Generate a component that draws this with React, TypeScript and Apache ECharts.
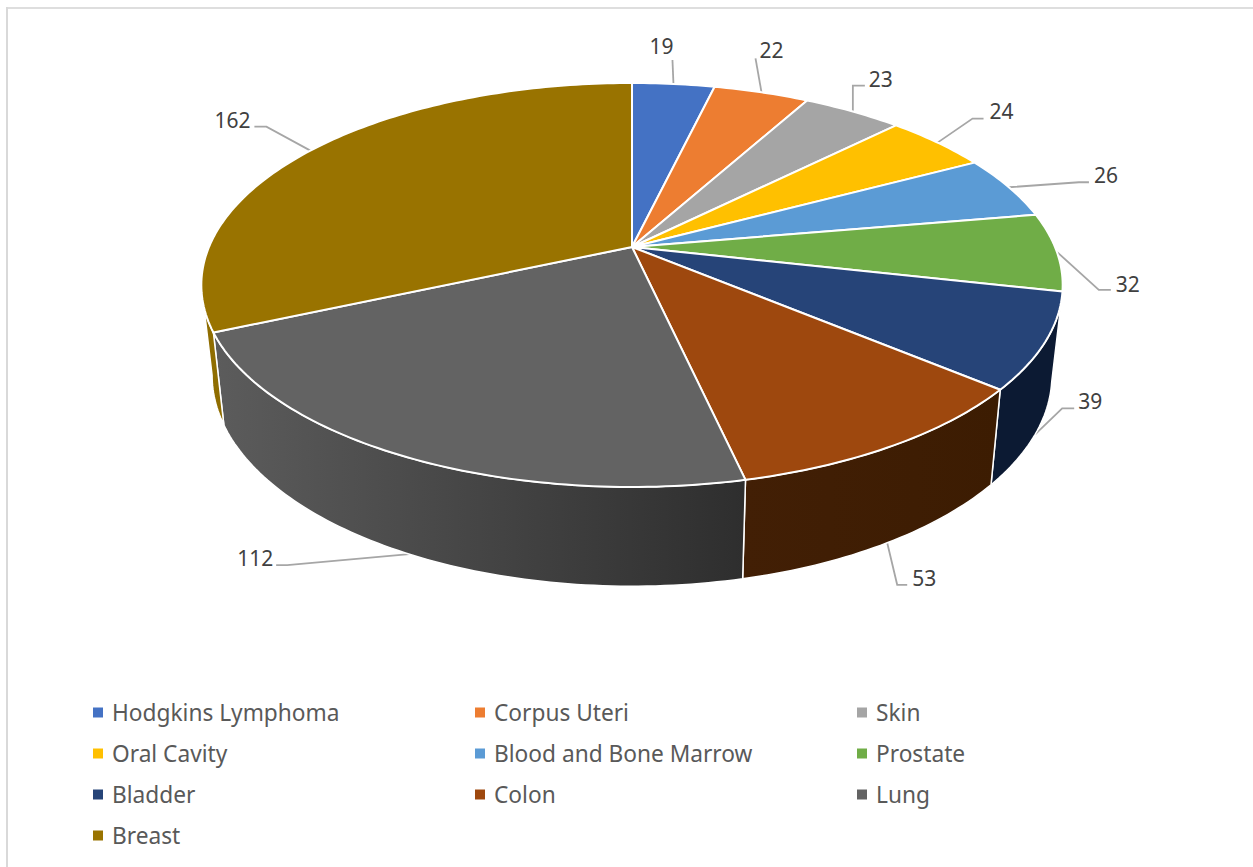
import React, { useEffect, useRef } from "react";
import * as echarts from "echarts";

const categories = ["Hodgkins Lymphoma", "Corpus Uteri", "Skin", "Oral Cavity", "Blood and Bone Marrow", "Prostate", "Bladder", "Colon", "Lung", "Breast"];
const values = [19, 22, 23, 24, 26, 32, 39, 53, 112, 162];
const topColors = ["#4472C4", "#ED7D31", "#A5A5A5", "#FFC000", "#5B9BD5", "#70AD47", "#264478", "#9E480E", "#636363", "#997300"];
const sideColorsStart = ["#22395F", "#773F18", "#535353", "#806000", "#2E4E6B", "#385724", "#0C1A33", "#421F05", "#5C5C5C", "#8F6D00"];
const sideColorsEnd = ["#22395F", "#773F18", "#535353", "#806000", "#2E4E6B", "#385724", "#0C1A33", "#3C1C02", "#2E2E2E", "#8F6D00"];

// leader layout relative to the rim point at each slice's mid angle: elbow, end, label centre
const leaderElbow = [[-1, -24], [-6, -34], [0, -26], [35, -24], [70, -5], [42, 38], [27, -26], [10, 42], [-122, 11], [-44, -24]];
const leaderEnd = [[-1, -24], [-6, -34], [12, -26], [46, -24], [80, -5], [54, 38], [39, -26], [20, 42], [-133, 11], [-56, -24]];
const labelOffset = [[-12, -38], [10, -42], [28, -33], [64, -32], [97, -12], [71, 32], [55, -33], [37, 35], [-154, 4], [-78, -31]];

const legendColumns = [
  ["Hodgkins Lymphoma", "Oral Cavity", "Bladder", "Breast"],
  ["Corpus Uteri", "Blood and Bone Marrow", "Colon"],
  ["Skin", "Prostate", "Lung"],
];
const legendLefts = [93, 475, 857];

const FONT = "'Noto Sans'";
const APEX_X = 632;
const APEX_Y = 247;
const B = 423;
const A = 194.85;
const T = 0.188;
const total = values.reduce((a, b) => a + b, 0);
// angles at which the rim is at its widest: the side wall is visible between them
const FRONT_FROM = (Math.acos(-T) * 180) / Math.PI;
const FRONT_TO = 360 - FRONT_FROM;

function topPoint(deg: number): [number, number] {
  const r = (deg * Math.PI) / 180;
  const u = Math.sin(r);
  const v = Math.cos(r);
  const d = 1 + T * v;
  return [APEX_X + (B * u) / d, APEX_Y - (A * v) / d];
}
function bottomPoint(deg: number): [number, number] {
  const [x, y] = topPoint(deg);
  return [APEX_X + (x - APEX_X) * 0.975, 485 + 1.044 * (y - 390)];
}
function arcPoints(a0: number, a1: number, f: (d: number) => [number, number]) {
  const pts: [number, number][] = [];
  const n = Math.max(2, Math.ceil(a1 - a0));
  for (let i = 0; i <= n; i++) pts.push(f(a0 + ((a1 - a0) * i) / n));
  return pts;
}

function sliceAngles(i: number) {
  const before = values.slice(0, i).reduce((a, b) => a + b, 0);
  return [(before / total) * 360, ((before + values[i]) / total) * 360];
}

function renderSlice(i: number) {
  const [a0, a1] = sliceAngles(i);
  const mid = (a0 + a1) / 2;
  const top = arcPoints(a0, a1, topPoint);
  const front = Math.cos((mid * Math.PI) / 180) < -0.1;
  const [sx, sy] = front ? bottomPoint(mid) : topPoint(mid);
  const children: any[] = [
    {
      type: "polyline",
      z2: 1,
      silent: true,
      shape: { points: [[sx, sy], [sx + leaderElbow[i][0], sy + leaderElbow[i][1]], [sx + leaderEnd[i][0], sy + leaderEnd[i][1]]] },
      style: { stroke: "#A6A6A6", lineWidth: 1.8, fill: "none" },
    },
    {
      type: "polygon",
      z2: 3,
      shape: { points: [[APEX_X, APEX_Y], ...top] },
      style: { fill: topColors[i], stroke: "#FFFFFF", lineWidth: 2, lineJoin: "round" },
    },
    {
      type: "text",
      z2: 4,
      x: sx + labelOffset[i][0],
      y: sy + labelOffset[i][1],
      style: {
        text: String(values[i]),
        fill: "#404040",
        font: `21px ${FONT}`,
        align: "center",
        verticalAlign: "middle",
      },
    },
  ];
  const s0 = Math.max(a0, FRONT_FROM);
  const s1 = Math.min(a1, FRONT_TO);
  if (s1 > s0) {
    const wallTop = arcPoints(s0, s1, topPoint);
    const wallBottom = arcPoints(s0, s1, bottomPoint).reverse();
    children.push({
      type: "polygon",
      z2: 2,
      shape: { points: [...wallTop, ...wallBottom] },
      style: {
        fill: {
          type: "linear", x: 0, y: 0, x2: 1, y2: 0,
          colorStops: [{ offset: 0, color: sideColorsStart[i] }, { offset: 1, color: sideColorsEnd[i] }],
        },
        stroke: "#FFFFFF",
        lineWidth: 1.5,
      },
    });
  }
  return { type: "group", children };
}

export default function App() {
  const ref = useRef<HTMLDivElement>(null);
  useEffect(() => {
    document.body.style.margin = "0";
    const chart = echarts.init(ref.current!, undefined, { renderer: "svg" });
    chart.setOption({
      animation: false,
      backgroundColor: "#FFFFFF",
      legend: legendColumns.map((names, c) => ({
        data: names,
        orient: "vertical",
        left: legendLefts[c],
        top: 701,
        icon: "rect",
        itemWidth: 10,
        itemHeight: 10,
        itemGap: 18,
        selectedMode: false,
        textStyle: { color: "#595959", fontFamily: FONT, fontSize: 22.7, padding: [0, 0, 0, 4] },
        padding: 0,
      })),
      series: categories.map((name, i) => ({
        type: "custom",
        name,
        coordinateSystem: "none",
        silent: true,
        itemStyle: { color: topColors[i] },
        data: [[values[i]]],
        renderItem: () => renderSlice(i),
      })),
    });
    return () => chart.dispose();
  }, []);
  return (
    <div style={{ position: "absolute", left: 0, top: 0, width: 1253, height: 867, overflow: "hidden", background: "#fff" }}>
      <div ref={ref} style={{ width: 1253, height: 867 }} />
      <div style={{ position: "absolute", left: 6, top: 7, width: 1247, height: 2, background: "#DEDEDE" }} />
      <div style={{ position: "absolute", left: 6, top: 7, width: 2, height: 860, background: "#D9D9D9" }} />
    </div>
  );
}
